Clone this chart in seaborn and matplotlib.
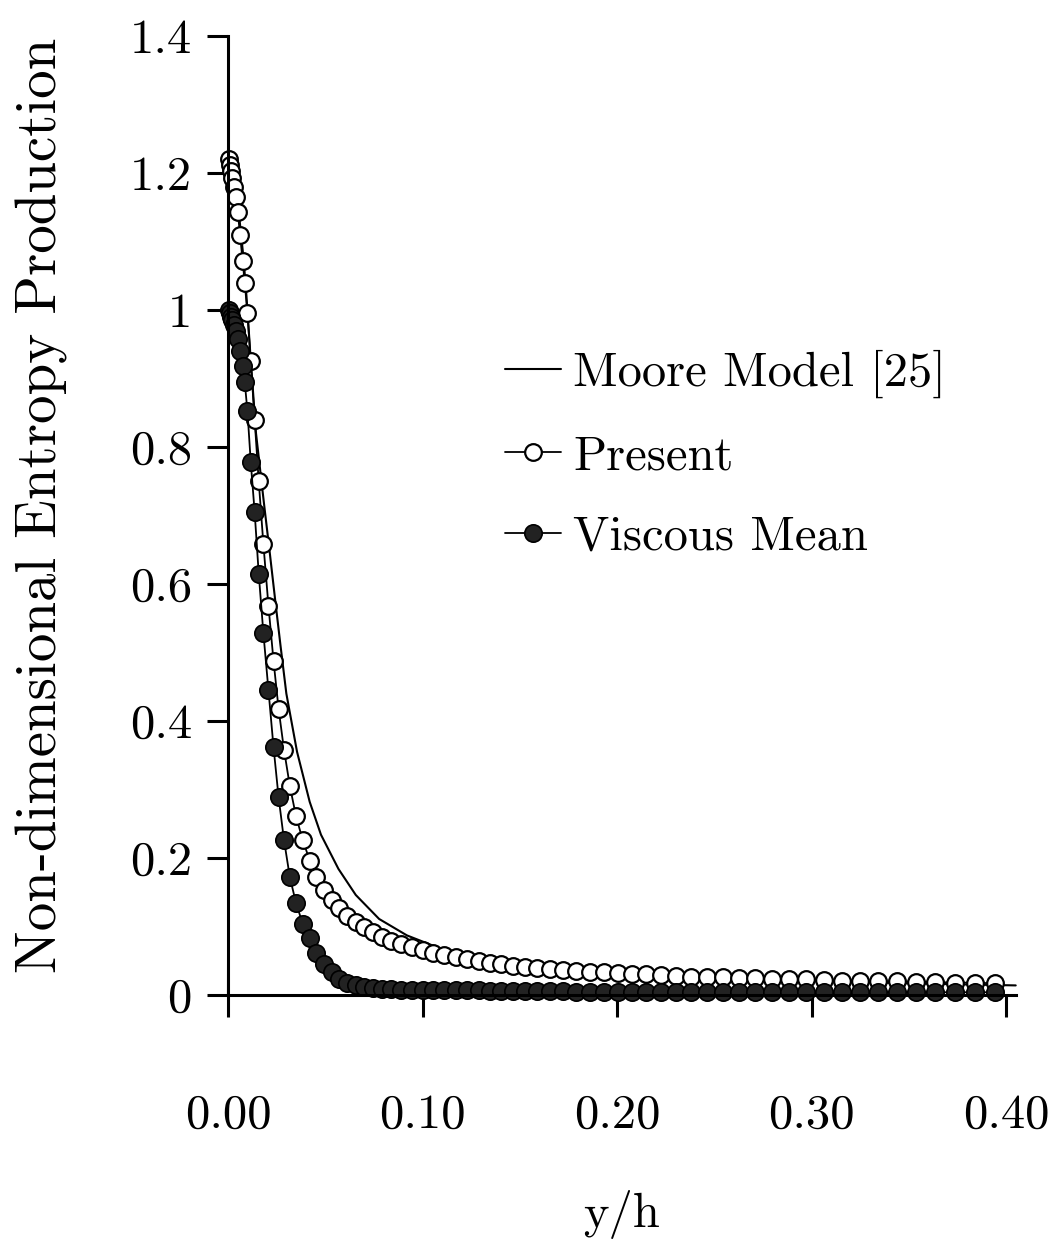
import matplotlib
matplotlib.use("Agg")
import matplotlib.pyplot as plt
import seaborn as sns

# Wall-normal grid shared by the two computed profiles
y_over_h = [
    0.0005, 0.0009, 0.0015, 0.0022, 0.0030, 0.0040, 0.0050, 0.0062, 0.0075, 0.0086,
    0.0100, 0.0117, 0.0137, 0.0158, 0.0182, 0.0208, 0.0234, 0.0260, 0.0288, 0.0318,
    0.0349, 0.0384, 0.0421, 0.0455, 0.0495, 0.0533, 0.0573, 0.0614, 0.0657, 0.0700,
    0.0743, 0.0790, 0.0840, 0.0892, 0.0945, 0.1000, 0.1055, 0.1112, 0.1170, 0.1230,
    0.1290, 0.1345, 0.1403, 0.1463, 0.1525, 0.1589, 0.1655, 0.1722, 0.1790, 0.1860,
    0.1931, 0.2003, 0.2076, 0.2150, 0.2226, 0.2303, 0.2382, 0.2462, 0.2544, 0.2627,
    0.2711, 0.2797, 0.2884, 0.2973, 0.3063, 0.3155, 0.3248, 0.3343, 0.3439, 0.3537,
    0.3636, 0.3737, 0.3840, 0.3945,
]

present = [
    1.220, 1.212, 1.203, 1.192, 1.180, 1.165, 1.143, 1.110, 1.072, 1.040,
    0.995, 0.925, 0.840, 0.750, 0.658, 0.568, 0.488, 0.418, 0.358, 0.305,
    0.262, 0.226, 0.196, 0.172, 0.154, 0.139, 0.127, 0.116, 0.107, 0.099,
    0.092, 0.085, 0.079, 0.074, 0.070, 0.066, 0.062, 0.058, 0.055, 0.052,
    0.049, 0.047, 0.045, 0.043, 0.041, 0.040, 0.038, 0.037, 0.035, 0.034,
    0.033, 0.032, 0.031, 0.030, 0.029, 0.028, 0.027, 0.027, 0.026, 0.025,
    0.025, 0.024, 0.023, 0.023, 0.022, 0.021, 0.021, 0.020, 0.020, 0.019,
    0.019, 0.018, 0.018, 0.017,
]

viscous_mean = [
    1.000, 0.996, 0.990, 0.985, 0.978, 0.970, 0.958, 0.940, 0.918, 0.895,
    0.852, 0.778, 0.705, 0.615, 0.528, 0.445, 0.362, 0.289, 0.226, 0.172,
    0.135, 0.104, 0.083, 0.062, 0.045, 0.033, 0.024, 0.018, 0.014, 0.012,
    0.010, 0.009, 0.009, 0.008, 0.008, 0.008, 0.007, 0.007, 0.007, 0.007,
    0.007, 0.006, 0.006, 0.006, 0.006, 0.006, 0.006, 0.006, 0.005, 0.005,
    0.005, 0.005, 0.005, 0.005, 0.005, 0.005, 0.005, 0.005, 0.005, 0.005,
    0.005, 0.005, 0.005, 0.005, 0.004, 0.004, 0.004, 0.004, 0.004, 0.004,
    0.004, 0.004, 0.004, 0.004,
]

# Moore model curve
moore_y_over_h = [
    0.0, 0.0005, 0.0020, 0.0040, 0.0060, 0.0080, 0.0095, 0.0115, 0.0144, 0.0184,
    0.0215, 0.0242, 0.0270, 0.0300, 0.0355, 0.0420, 0.0478, 0.0568, 0.0657, 0.0777,
    0.0920, 0.1100, 0.1300, 0.1550, 0.1800, 0.2000, 0.2500, 0.3000, 0.3500, 0.4050,
]
moore = [
    0.0, 1.215, 1.198, 1.170, 1.130, 1.075, 1.020, 0.935, 0.820, 0.720,
    0.645, 0.578, 0.510, 0.440, 0.355, 0.282, 0.234, 0.184, 0.146, 0.111,
    0.087, 0.067, 0.053, 0.042, 0.036, 0.032, 0.026, 0.021, 0.017, 0.014,
]

x_ticks = [0.0, 0.1, 0.2, 0.3, 0.4]
x_tick_labels = ["0.00", "0.10", "0.20", "0.30", "0.40"]
y_ticks = [0.0, 0.2, 0.4, 0.6, 0.8, 1.0, 1.2, 1.4]
y_tick_labels = ["0", "0.2", "0.4", "0.6", "0.8", "1", "1.2", "1.4"]

sns.set_style("ticks")
plt.rcParams["font.family"] = ["cmr10"]
plt.rcParams["mathtext.fontset"] = "cm"
plt.rcParams["axes.unicode_minus"] = False
plt.rcParams["axes.formatter.use_mathtext"] = True
plt.rcParams["text.color"] = "black"

FS = 35

fig = plt.figure(figsize=(10.55, 12.47), dpi=100)
W, H = 1055.0, 1247.0
x0_px, x04_px = 228.0, 1006.0
y0_px, y14_px = 995.0, 36.0
xmax = 0.405
ax_w = (x04_px - x0_px) / 0.4 * xmax
ax_h = y0_px - y14_px
ax = fig.add_axes([x0_px / W, (H - y0_px) / H, ax_w / W, ax_h / H])

sns.lineplot(x=moore_y_over_h, y=moore, ax=ax, color="black", lw=1.5,
             label="Moore Model [25]", sort=False, estimator=None, clip_on=False)
sns.lineplot(x=y_over_h, y=present, ax=ax, color="black", lw=1.3,
             marker="o", markersize=12, markerfacecolor="white",
             markeredgecolor="black", markeredgewidth=1.6,
             label="Present", sort=False, estimator=None, clip_on=False)
sns.lineplot(x=y_over_h, y=viscous_mean, ax=ax, color="black", lw=1.3,
             marker="o", markersize=12.5, markerfacecolor="#222222",
             markeredgecolor="black", markeredgewidth=1.2,
             label="Viscous Mean", sort=False, estimator=None, clip_on=False)

ax.set_xlim(0, xmax)
ax.set_ylim(0, 1.4)
ax.set_xticks(x_ticks, labels=x_tick_labels)
ax.set_yticks(y_ticks, labels=y_tick_labels)

sns.despine(ax=ax)
for side in ("left", "bottom"):
    ax.spines[side].set_linewidth(2.2)
    ax.spines[side].set_color("black")

ax.tick_params(axis="x", direction="out", length=16, width=2.2, pad=55,
               labelsize=FS, colors="black")
ax.tick_params(axis="y", direction="out", length=15, width=2.2, pad=11,
               labelsize=FS, colors="black")

ax.set_xlabel("y/h", fontsize=FS, color="black")
ax.set_ylabel("Non-dimensional Entropy Production", fontsize=41, color="black")
ax.xaxis.set_label_coords(0.5, (y0_px - 1190) / ax_h)
ax.yaxis.set_label_coords((68 - x0_px) / ax_w, (y0_px - 505) / ax_h)

ax.legend(loc="upper left",
          bbox_to_anchor=((505 - x0_px) / ax_w, (y0_px - 350) / ax_h),
          frameon=False, fontsize=FS, labelcolor="black", handlelength=1.15,
          handletextpad=0.25, labelspacing=0.75, borderpad=0, borderaxespad=0)

fig.savefig("out.png", dpi=100, facecolor="white")
